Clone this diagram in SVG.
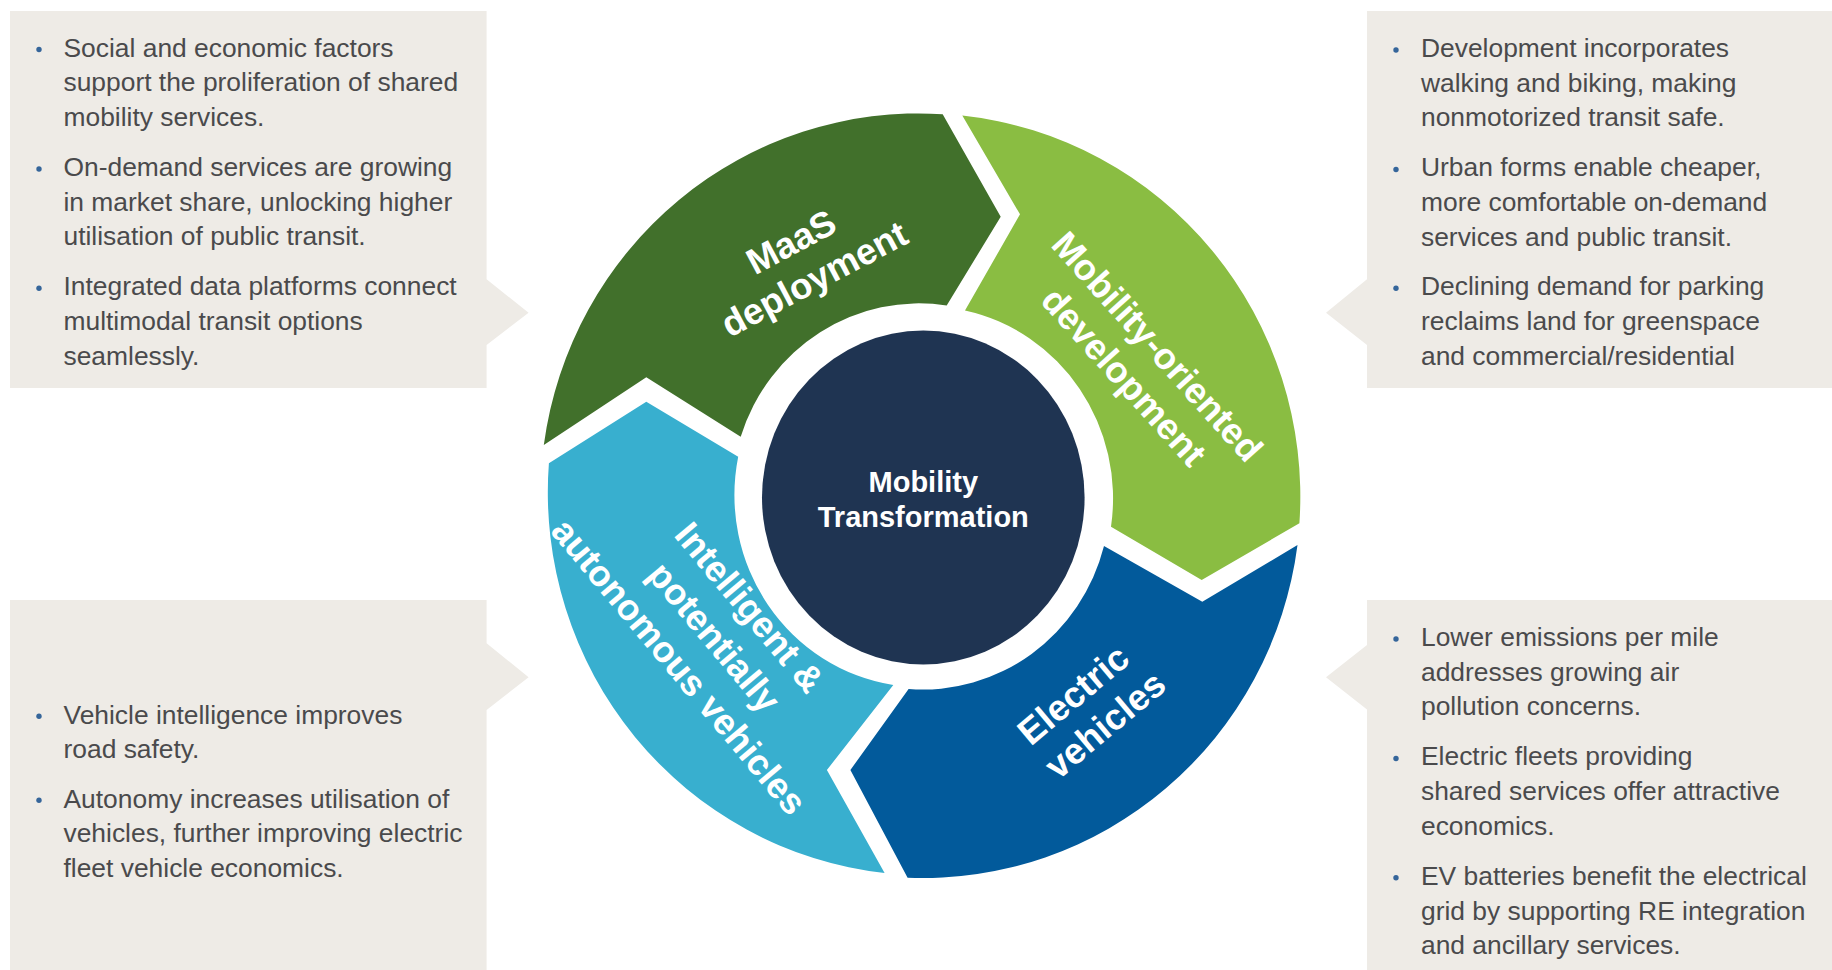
<svg xmlns="http://www.w3.org/2000/svg" width="1832" height="970" viewBox="0 0 1832 970">
<style>
.panel{fill:#eeebe6}
.bt{font-family:"Liberation Sans",Arial,sans-serif;font-size:26.4px;fill:#4a4a4c}
.dot{fill:#35659a}
.lbl{font-family:"Liberation Sans",Arial,sans-serif;font-weight:bold;font-size:36.5px;fill:#ffffff;text-anchor:middle}
.ctr{font-family:"Liberation Sans",Arial,sans-serif;font-weight:bold;font-size:29px;fill:#ffffff;text-anchor:middle}
</style>
<rect width="1832" height="970" fill="#ffffff"/>

<g id="panel-top-left">
<path class="panel" d="M10,11 H486.6 V279.3 L528.6,312.7 L486.6,345 V388 H10 Z"/>
<circle class="dot" cx="39" cy="49.5" r="2.7"/>
<circle class="dot" cx="39" cy="169" r="2.7"/>
<circle class="dot" cx="39" cy="288.3" r="2.7"/>
<text class="bt" x="63.5" y="56.5">Social and economic factors</text>
<text class="bt" x="63.5" y="91.2">support the proliferation of shared</text>
<text class="bt" x="63.5" y="125.9">mobility services.</text>
<text class="bt" x="63.5" y="175.9">On-demand services are growing</text>
<text class="bt" x="63.5" y="210.6">in market share, unlocking higher</text>
<text class="bt" x="63.5" y="245.3">utilisation of public transit.</text>
<text class="bt" x="63.5" y="295.3">Integrated data platforms connect</text>
<text class="bt" x="63.5" y="330">multimodal transit options</text>
<text class="bt" x="63.5" y="364.7">seamlessly.</text>
</g>

<g id="panel-top-right">
<path class="panel" d="M1367,11 H1832 V388 H1367 V345 L1326,312.7 L1367,279.3 Z"/>
<circle class="dot" cx="1396" cy="50" r="2.7"/>
<circle class="dot" cx="1396" cy="169.5" r="2.7"/>
<circle class="dot" cx="1396" cy="288.3" r="2.7"/>
<text class="bt" x="1421" y="57">Development incorporates</text>
<text class="bt" x="1421" y="91.7">walking and biking, making</text>
<text class="bt" x="1421" y="126.2">nonmotorized transit safe.</text>
<text class="bt" x="1421" y="176.4">Urban forms enable cheaper,</text>
<text class="bt" x="1421" y="211">more comfortable on-demand</text>
<text class="bt" x="1421" y="245.6">services and public transit.</text>
<text class="bt" x="1421" y="295.3">Declining demand for parking</text>
<text class="bt" x="1421" y="330">reclaims land for greenspace</text>
<text class="bt" x="1421" y="364.5">and commercial/residential</text>
</g>

<g id="panel-bottom-left">
<path class="panel" d="M10,600 H486.6 V643.3 L528.6,677.3 L486.6,710 V970 H10 Z"/>
<circle class="dot" cx="39" cy="716.3" r="2.7"/>
<circle class="dot" cx="39" cy="800.3" r="2.7"/>
<text class="bt" x="63.5" y="723.5">Vehicle intelligence improves</text>
<text class="bt" x="63.5" y="758">road safety.</text>
<text class="bt" x="63.5" y="807.5">Autonomy increases utilisation of</text>
<text class="bt" x="63.5" y="842">vehicles, further improving electric</text>
<text class="bt" x="63.5" y="876.5">fleet vehicle economics.</text>
</g>

<g id="panel-bottom-right">
<path class="panel" d="M1367,600 H1832 V970 H1367 V709.5 L1326,677.3 L1367,645 Z"/>
<circle class="dot" cx="1396" cy="639" r="2.7"/>
<circle class="dot" cx="1396" cy="758.5" r="2.7"/>
<circle class="dot" cx="1396" cy="877.8" r="2.7"/>
<text class="bt" x="1421" y="646">Lower emissions per mile</text>
<text class="bt" x="1421" y="680.7">addresses growing air</text>
<text class="bt" x="1421" y="715.4">pollution concerns.</text>
<text class="bt" x="1421" y="765.4">Electric fleets providing</text>
<text class="bt" x="1421" y="800.1">shared services offer attractive</text>
<text class="bt" x="1421" y="834.8">economics.</text>
<text class="bt" x="1421" y="884.8">EV batteries benefit the electrical</text>
<text class="bt" x="1421" y="919.5">grid by supporting RE integration</text>
<text class="bt" x="1421" y="954.2">and ancillary services.</text>
</g>

<g id="seg-maas">
<path fill="#41702b" d="M543.8,445 A378,383 0 0 1 942.7,114.2 L1000.7,216.7 L946.7,305.5 A187,192 0 0 0 740.7,436.7 L646.3,377.3 Z"/>
<text class="lbl" transform="translate(797,253) rotate(-28)"><tspan x="0" y="0">MaaS</tspan><tspan x="3" y="43.5">deployment</tspan></text>
</g>

<g id="seg-mobility-oriented">
<path fill="#8abd42" d="M962.3,115.6 A378,383 0 0 1 1299.4,523.3 L1201.7,580 L1111,526.7 A187,192 0 0 0 965,310.5 L1020,214.3 Z"/>
<text class="lbl" transform="translate(1148,355) rotate(48)"><tspan x="0" y="0">Mobility-oriented</tspan><tspan x="0" y="45">development</tspan></text>
</g>

<g id="seg-electric">
<path fill="#025a9b" d="M1297.5,545 A378,383 0 0 1 907.6,877.8 L850.4,770 L908.6,689 A187,192 0 0 0 1104,546 L1202.3,601.7 Z"/>
<text class="lbl" transform="translate(1081.3,704.3) rotate(-40)"><tspan x="0" y="0">Electric</tspan><tspan x="5" y="43.5">vehicles</tspan></text>
</g>

<g id="seg-intelligent">
<path fill="#38afcf" d="M884.6,873 A378,383 0 0 1 548.9,463.3 L646.3,401.7 L738.2,456.7 A187,192 0 0 0 893.3,685 L826.9,770 Z"/>
<text class="lbl" transform="translate(740,615.5) rotate(50)"><tspan x="0" y="0">Intelligent &amp;</tspan><tspan x="0" y="46">potentially</tspan><tspan x="0" y="92">autonomous vehicles</tspan></text>
</g>

<g id="center">
<ellipse cx="923.3" cy="497.5" rx="161.3" ry="167" fill="#1f3452"/>
<text class="ctr" x="923.3" y="492">Mobility</text>
<text class="ctr" x="923.3" y="527">Transformation</text>
</g>

<g id="connectors"></g>
</svg>
